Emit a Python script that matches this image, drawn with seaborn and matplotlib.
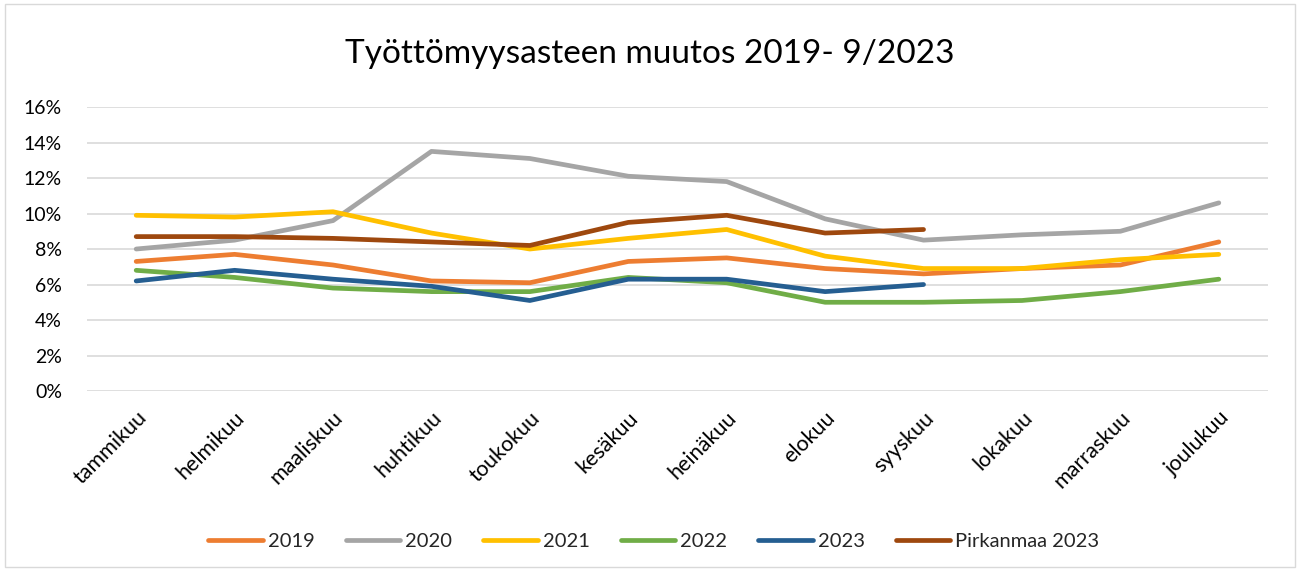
import numpy as np
import pandas as pd
import seaborn as sns
from matplotlib import pyplot as plt
from matplotlib.patches import Rectangle

months = ["tammikuu", "helmikuu", "maaliskuu", "huhtikuu", "toukokuu", "kesäkuu",
          "heinäkuu", "elokuu", "syyskuu", "lokakuu", "marraskuu", "joulukuu"]

nan = np.nan
y2019 = [7.3, 7.7, 7.1, 6.2, 6.1, 7.3, 7.5, 6.9, 6.6, 6.9, 7.1, 8.4]
y2020 = [8.0, 8.5, 9.6, 13.5, 13.1, 12.1, 11.8, 9.7, 8.5, 8.8, 9.0, 10.6]
y2021 = [9.9, 9.8, 10.1, 8.9, 8.0, 8.6, 9.1, 7.6, 6.9, 6.9, 7.4, 7.7]
y2022 = [6.8, 6.4, 5.8, 5.6, 5.6, 6.4, 6.1, 5.0, 5.0, 5.1, 5.6, 6.3]
y2023 = [6.2, 6.8, 6.3, 5.9, 5.1, 6.3, 6.3, 5.6, 6.0, nan, nan, nan]
pirkanmaa = [8.7, 8.7, 8.6, 8.4, 8.2, 9.5, 9.9, 8.9, 9.1, nan, nan, nan]

series = {"2019": y2019, "2020": y2020, "2021": y2021, "2022": y2022,
          "2023": y2023, "Pirkanmaa 2023": pirkanmaa}
colors = {"2019": "#ED7D31", "2020": "#A5A5A5", "2021": "#FFC000",
          "2022": "#70AD47", "2023": "#255E91", "Pirkanmaa 2023": "#9E480E"}

rows = []
for name, vals in series.items():
    for i, v in enumerate(vals):
        rows.append({"kk": i, "sarja": name, "arvo": v})
df = pd.DataFrame(rows).dropna()

sns.set_style("white")
plt.rcParams["font.family"] = ["Lato", "DejaVu Sans"]

fig = plt.figure(figsize=(13, 5.72), dpi=100)
ax = fig.add_axes([0.0669, 0.3164, 0.9085, 0.4965])

sns.lineplot(data=df, x="kk", y="arvo", hue="sarja", palette=colors,
             linewidth=3.4, ax=ax, legend=False, solid_capstyle="round")

ax.set_xlim(-0.5, 11.5)
ax.set_ylim(0, 16)
ax.set_yticks(range(0, 17, 2))
ax.set_yticklabels([f"{v}%" for v in range(0, 17, 2)], fontsize=14, color="#000000")
ax.set_xticks(range(12))
ax.set_xticklabels(months, rotation=45, ha="right", rotation_mode="anchor",
                   fontsize=15.5, color="#000000")
ax.tick_params(axis="y", length=0, pad=18)
ax.tick_params(axis="x", length=0, pad=12)
ax.grid(axis="y", color="#D9D9D9", linewidth=1.2)
ax.set_axisbelow(True)
for s in ax.spines.values():
    s.set_visible(False)
ax.set_xlabel("")
ax.set_ylabel("")

fig.text(0.5, 0.905, "Työttömyysasteen muutos 2019- 9/2023", ha="center", va="center",
         fontsize=24, color="#000000")

handles = [plt.Line2D([], [], color=colors[n], linewidth=3.4, solid_capstyle="round")
           for n in series]
fig.legend(handles, list(series.keys()), loc="center", bbox_to_anchor=(0.503, 0.054),
           ncol=6, frameon=False, fontsize=14.5, handlelength=2.7, handletextpad=0.25,
           columnspacing=1.55)

fig.add_artist(Rectangle((0.004, 0.008), 0.992, 0.985, transform=fig.transFigure,
                         fill=False, edgecolor="#D9D9D9", linewidth=1))

fig.savefig("out.png", dpi=100)
